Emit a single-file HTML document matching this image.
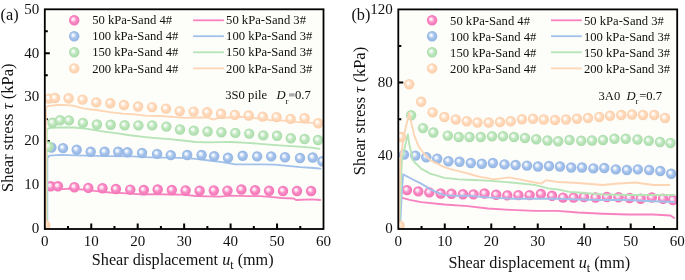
<!DOCTYPE html>
<html><head><meta charset="utf-8"><style>
html,body{margin:0;padding:0;background:#fff;width:685px;height:280px;overflow:hidden}
svg{display:block;will-change:transform}
text{font-family:"Liberation Serif", serif;fill:#111}
.tk{font-size:15px}
.lg{font-size:12.62px}
.it{font-style:italic}
.sb{font-size:8.8px;font-style:normal}
.at{font-size:16.2px}
.pl{font-size:16.3px}
</style></head><body>
<svg width="685" height="280" viewBox="0 0 685 280">
<defs>
<radialGradient id="gpk" cx="0.5" cy="0.5" r="0.5" fx="0.36" fy="0.35"><stop offset="0" stop-color="#fdeef6"/><stop offset="0.2" stop-color="#fdeef6"/><stop offset="0.55" stop-color="#f98bc6"/><stop offset="1" stop-color="#f373b5"/></radialGradient>
<radialGradient id="gbl" cx="0.5" cy="0.5" r="0.5" fx="0.36" fy="0.35"><stop offset="0" stop-color="#f2f6fd"/><stop offset="0.2" stop-color="#f2f6fd"/><stop offset="0.55" stop-color="#a5c3ec"/><stop offset="1" stop-color="#93b4e3"/></radialGradient>
<radialGradient id="ggr" cx="0.5" cy="0.5" r="0.5" fx="0.36" fy="0.35"><stop offset="0" stop-color="#f4fbf4"/><stop offset="0.2" stop-color="#f4fbf4"/><stop offset="0.55" stop-color="#bde7bd"/><stop offset="1" stop-color="#aadbaa"/></radialGradient>
<radialGradient id="gor" cx="0.5" cy="0.5" r="0.5" fx="0.36" fy="0.35"><stop offset="0" stop-color="#fffbf6"/><stop offset="0.2" stop-color="#fffbf6"/><stop offset="0.55" stop-color="#fedabd"/><stop offset="1" stop-color="#fccea9"/></radialGradient>
</defs>
<rect width="685" height="280" fill="#fff"/>
<rect x="44.8" y="9.3" width="278.7" height="219.7" fill="#fdfdf9"/>
<rect x="398.3" y="9.4" width="278.9" height="219.6" fill="#fdfdf9"/>
<path d="M68.02 229V226 M91.25 229V223.5 M114.47 229V226 M137.7 229V223.5 M160.92 229V226 M184.15 229V223.5 M207.38 229V226 M230.6 229V223.5 M253.82 229V226 M277.05 229V223.5 M300.27 229V226 M44.8 207.03H47.8 M44.8 185.06H49.8 M44.8 163.09H47.8 M44.8 141.12H49.8 M44.8 119.15H47.8 M44.8 97.18H49.8 M44.8 75.21H47.8 M44.8 53.24H49.8 M44.8 31.27H47.8" stroke="#000" stroke-width="2" fill="none"/>
<path d="M421.54 229V226 M444.78 229V223.5 M468.03 229V226 M491.27 229V223.5 M514.51 229V226 M537.75 229V223.5 M560.99 229V226 M584.23 229V223.5 M607.48 229V226 M630.72 229V223.5 M653.96 229V226 M398.3 192.4H401.3 M398.3 155.8H403.3 M398.3 119.2H401.3 M398.3 82.6H403.3 M398.3 46H401.3" stroke="#000" stroke-width="2" fill="none"/>
<clipPath id="ca"><rect x="44.8" y="9.3" width="278.7" height="219.7"/></clipPath>
<g clip-path="url(#ca)">
<polyline points="46.4,229 46.4,190 47.3,188.5 63.7,189.2 70.3,188.5 83.4,189.6 96.6,191.1 109.7,192.5 122.8,193.1 134,193.8 143.1,194.5 156.3,194.2 169.4,194.5 182.6,194.7 195.7,196 208.8,196.4 220,196.6 231.1,195.6 247.1,196.1 260,196.1 269.6,196.9 282.4,198 293.7,198.5 296.1,200 311.4,199.3 320.2,200" fill="none" stroke="#f882c0" stroke-width="1.85" stroke-linejoin="round" stroke-linecap="round"/>
<circle cx="50.6" cy="186.3" r="5.2" fill="url(#gpk)"/>
<circle cx="57.9" cy="186.3" r="5.2" fill="url(#gpk)"/>
<circle cx="74.4" cy="187.2" r="5.2" fill="url(#gpk)"/>
<circle cx="88.3" cy="187.9" r="5.2" fill="url(#gpk)"/>
<circle cx="102.5" cy="188.3" r="5.2" fill="url(#gpk)"/>
<circle cx="115.9" cy="189" r="5.2" fill="url(#gpk)"/>
<circle cx="130.3" cy="189.6" r="5.2" fill="url(#gpk)"/>
<circle cx="143.8" cy="190" r="5.2" fill="url(#gpk)"/>
<circle cx="157.7" cy="189.5" r="5.2" fill="url(#gpk)"/>
<circle cx="171.8" cy="190" r="5.2" fill="url(#gpk)"/>
<circle cx="185.6" cy="190.5" r="5.2" fill="url(#gpk)"/>
<circle cx="199.6" cy="190.7" r="5.2" fill="url(#gpk)"/>
<circle cx="213.8" cy="190.5" r="5.2" fill="url(#gpk)"/>
<circle cx="227.5" cy="190.6" r="5.2" fill="url(#gpk)"/>
<circle cx="241.4" cy="189.5" r="5.2" fill="url(#gpk)"/>
<circle cx="255.1" cy="190.3" r="5.2" fill="url(#gpk)"/>
<circle cx="269.1" cy="190.8" r="5.2" fill="url(#gpk)"/>
<circle cx="283" cy="191" r="5.2" fill="url(#gpk)"/>
<circle cx="297" cy="191" r="5.2" fill="url(#gpk)"/>
<circle cx="311.1" cy="191" r="5.2" fill="url(#gpk)"/>
<polyline points="47.3,229 47.3,158 49.5,155.6 60,154.8 84.1,155.6 108.2,156.1 132.3,156.4 150,157.3 163.1,157.7 181.5,157.9 196,158.8 209.1,160.5 222.3,162.1 235.4,164.3 248.1,164.4 261.3,164.4 274.4,164.7 287.6,165.8 300.7,167.1 313.8,168 320.4,168.7" fill="none" stroke="#a1c1eb" stroke-width="1.85" stroke-linejoin="round" stroke-linecap="round"/>
<circle cx="51.4" cy="147.5" r="5.2" fill="url(#gbl)"/>
<circle cx="63" cy="148.1" r="5.2" fill="url(#gbl)"/>
<circle cx="76.7" cy="149.7" r="5.2" fill="url(#gbl)"/>
<circle cx="90.7" cy="151.8" r="5.2" fill="url(#gbl)"/>
<circle cx="104.6" cy="151.8" r="5.2" fill="url(#gbl)"/>
<circle cx="118.2" cy="151.8" r="5.2" fill="url(#gbl)"/>
<circle cx="127.5" cy="152.2" r="5.2" fill="url(#gbl)"/>
<circle cx="142" cy="153" r="5.2" fill="url(#gbl)"/>
<circle cx="157.1" cy="153.9" r="5.2" fill="url(#gbl)"/>
<circle cx="170.8" cy="155.1" r="5.2" fill="url(#gbl)"/>
<circle cx="187.2" cy="155" r="5.2" fill="url(#gbl)"/>
<circle cx="201.6" cy="155" r="5.2" fill="url(#gbl)"/>
<circle cx="214.2" cy="156.2" r="5.2" fill="url(#gbl)"/>
<circle cx="228" cy="157.8" r="5.2" fill="url(#gbl)"/>
<circle cx="242.7" cy="155.8" r="5.2" fill="url(#gbl)"/>
<circle cx="257.2" cy="156.4" r="5.2" fill="url(#gbl)"/>
<circle cx="271.2" cy="156.4" r="5.2" fill="url(#gbl)"/>
<circle cx="285" cy="157.2" r="5.2" fill="url(#gbl)"/>
<circle cx="300" cy="158" r="5.2" fill="url(#gbl)"/>
<circle cx="312.7" cy="157.5" r="5.2" fill="url(#gbl)"/>
<circle cx="322.4" cy="161.3" r="5.2" fill="url(#gbl)"/>
<polyline points="46.8,229 46.8,129.5 49.3,128.1 57.1,127.5 74.2,127.5 87.4,128.8 100.5,131.2 117.6,133.4 130,135.25 143.1,136.8 156.3,138.1 169.4,139.2 182.6,140.5 195.7,142 208.8,142.4 220,142.1 231,142 247.1,142.8 263.2,144.1 279.2,145.3 295.3,146.4 311.4,147.7 319.4,148.9" fill="none" stroke="#b6e4b6" stroke-width="1.85" stroke-linejoin="round" stroke-linecap="round"/>
<circle cx="48.5" cy="146.5" r="5.2" fill="url(#ggr)"/>
<circle cx="52.5" cy="122.7" r="5.2" fill="url(#ggr)"/>
<circle cx="60" cy="120.2" r="5.2" fill="url(#ggr)"/>
<circle cx="68.9" cy="120.4" r="5.2" fill="url(#ggr)"/>
<circle cx="82.9" cy="122.9" r="5.2" fill="url(#ggr)"/>
<circle cx="96.9" cy="124.5" r="5.2" fill="url(#ggr)"/>
<circle cx="110.7" cy="124.7" r="5.2" fill="url(#ggr)"/>
<circle cx="124.6" cy="125.3" r="5.2" fill="url(#ggr)"/>
<circle cx="138.4" cy="125.4" r="5.2" fill="url(#ggr)"/>
<circle cx="152.2" cy="125.4" r="5.2" fill="url(#ggr)"/>
<circle cx="166.4" cy="126.6" r="5.2" fill="url(#ggr)"/>
<circle cx="180" cy="129.5" r="5.2" fill="url(#ggr)"/>
<circle cx="193.75" cy="130.6" r="5.2" fill="url(#ggr)"/>
<circle cx="207.6" cy="131.5" r="5.2" fill="url(#ggr)"/>
<circle cx="221.4" cy="132.2" r="5.2" fill="url(#ggr)"/>
<circle cx="235.3" cy="132.9" r="5.2" fill="url(#ggr)"/>
<circle cx="249.2" cy="133.6" r="5.2" fill="url(#ggr)"/>
<circle cx="263.3" cy="135.4" r="5.2" fill="url(#ggr)"/>
<circle cx="277.1" cy="135.8" r="5.2" fill="url(#ggr)"/>
<circle cx="290.8" cy="138.2" r="5.2" fill="url(#ggr)"/>
<circle cx="304.6" cy="139" r="5.2" fill="url(#ggr)"/>
<circle cx="318" cy="140" r="5.2" fill="url(#ggr)"/>
<polyline points="45.9,229 45.9,108 47.5,106.2 51.7,105.6 57,105 63.4,104.9 72.7,105.6 84.4,108.6 96,110 110,112.2 122.5,113.7 135,114.4 145,115.6 160,116 172.5,116.9 185,117.9 197.5,117.5 207.5,117.5 213.75,119.6 217.5,118.1 228.75,117.5 241.25,116.9 253.75,118.1 265,118.9 269.3,120 283.6,120.7 297.9,122.1 312.1,122.9 321,123.9" fill="none" stroke="#fdd5b4" stroke-width="1.85" stroke-linejoin="round" stroke-linecap="round"/>
<circle cx="45.2" cy="225.2" r="5.2" fill="url(#gor)"/>
<circle cx="48.8" cy="98.6" r="5.2" fill="url(#gor)"/>
<circle cx="55" cy="98" r="5.2" fill="url(#gor)"/>
<circle cx="68.6" cy="98.3" r="5.2" fill="url(#gor)"/>
<circle cx="82.5" cy="99.6" r="5.2" fill="url(#gor)"/>
<circle cx="96.3" cy="102.4" r="5.2" fill="url(#gor)"/>
<circle cx="110.3" cy="103.2" r="5.2" fill="url(#gor)"/>
<circle cx="124" cy="105" r="5.2" fill="url(#gor)"/>
<circle cx="138.1" cy="106.5" r="5.2" fill="url(#gor)"/>
<circle cx="152.1" cy="107.1" r="5.2" fill="url(#gor)"/>
<circle cx="166" cy="108.6" r="5.2" fill="url(#gor)"/>
<circle cx="179.7" cy="111.1" r="5.2" fill="url(#gor)"/>
<circle cx="193.6" cy="111.6" r="5.2" fill="url(#gor)"/>
<circle cx="207.2" cy="112.3" r="5.2" fill="url(#gor)"/>
<circle cx="221" cy="113.75" r="5.2" fill="url(#gor)"/>
<circle cx="234.9" cy="114.9" r="5.2" fill="url(#gor)"/>
<circle cx="248.75" cy="115.5" r="5.2" fill="url(#gor)"/>
<circle cx="262.7" cy="116.6" r="5.2" fill="url(#gor)"/>
<circle cx="276.6" cy="117.1" r="5.2" fill="url(#gor)"/>
<circle cx="290.6" cy="118.9" r="5.2" fill="url(#gor)"/>
<circle cx="304.6" cy="118.2" r="5.2" fill="url(#gor)"/>
<circle cx="318.2" cy="123.2" r="5.2" fill="url(#gor)"/>
</g>
<clipPath id="cb"><rect x="398.3" y="9.4" width="278.9" height="219.6"/></clipPath>
<g clip-path="url(#cb)">
<polyline points="399.6,229 400.5,200 401.5,197.6 409.6,199.9 421.2,202.2 444.4,204.5 467.6,206.1 488,208.5 511.2,209.9 534.4,210.8 557.6,210.8 578,212.5 603,213.75 628,214.5 653,214.5 670.5,215.5 674.25,218" fill="none" stroke="#f882c0" stroke-width="1.85" stroke-linejoin="round" stroke-linecap="round"/>
<circle cx="407" cy="190.1" r="5.2" fill="url(#gpk)"/>
<circle cx="418.3" cy="191.4" r="5.2" fill="url(#gpk)"/>
<circle cx="429.3" cy="192.4" r="5.2" fill="url(#gpk)"/>
<circle cx="440.7" cy="193.5" r="5.2" fill="url(#gpk)"/>
<circle cx="451.5" cy="193.7" r="5.2" fill="url(#gpk)"/>
<circle cx="463" cy="194.2" r="5.2" fill="url(#gpk)"/>
<circle cx="473.5" cy="194.4" r="5.2" fill="url(#gpk)"/>
<circle cx="484.5" cy="193.5" r="5.2" fill="url(#gpk)"/>
<circle cx="496.2" cy="194.7" r="5.2" fill="url(#gpk)"/>
<circle cx="507.3" cy="195.4" r="5.2" fill="url(#gpk)"/>
<circle cx="518.4" cy="195.1" r="5.2" fill="url(#gpk)"/>
<circle cx="529.6" cy="195.1" r="5.2" fill="url(#gpk)"/>
<circle cx="540.9" cy="194" r="5.2" fill="url(#gpk)"/>
<circle cx="552" cy="195.8" r="5.2" fill="url(#gpk)"/>
<circle cx="563" cy="197.6" r="5.2" fill="url(#gpk)"/>
<circle cx="573.6" cy="197.6" r="5.2" fill="url(#gpk)"/>
<circle cx="584" cy="197" r="5.2" fill="url(#gpk)"/>
<circle cx="595.6" cy="197.5" r="5.2" fill="url(#gpk)"/>
<circle cx="606.9" cy="197" r="5.2" fill="url(#gpk)"/>
<circle cx="618.5" cy="197.2" r="5.2" fill="url(#gpk)"/>
<circle cx="629.6" cy="198" r="5.2" fill="url(#gpk)"/>
<circle cx="640.7" cy="198.7" r="5.2" fill="url(#gpk)"/>
<circle cx="651.8" cy="197.5" r="5.2" fill="url(#gpk)"/>
<circle cx="663" cy="198.7" r="5.2" fill="url(#gpk)"/>
<circle cx="673" cy="200" r="5.2" fill="url(#gpk)"/>
<polyline points="400,229 401.5,198.7 403.1,174.4 411.9,179 421.2,183.6 432.8,190.6 444.4,195.2 456,195.9 467.6,195.7 488,197.4 511.2,198.7 534.4,198.7 557.6,198.7 578,199.5 603,200 628,200 653,201.25 674.25,202" fill="none" stroke="#a1c1eb" stroke-width="1.85" stroke-linejoin="round" stroke-linecap="round"/>
<circle cx="404" cy="154.6" r="5.2" fill="url(#gbl)"/>
<circle cx="415.4" cy="155.6" r="5.2" fill="url(#gbl)"/>
<circle cx="426.3" cy="157.2" r="5.2" fill="url(#gbl)"/>
<circle cx="437.2" cy="158.7" r="5.2" fill="url(#gbl)"/>
<circle cx="448.4" cy="161.2" r="5.2" fill="url(#gbl)"/>
<circle cx="459.5" cy="161.8" r="5.2" fill="url(#gbl)"/>
<circle cx="470.8" cy="163" r="5.2" fill="url(#gbl)"/>
<circle cx="481.8" cy="163.7" r="5.2" fill="url(#gbl)"/>
<circle cx="492.9" cy="163" r="5.2" fill="url(#gbl)"/>
<circle cx="504.5" cy="164.4" r="5.2" fill="url(#gbl)"/>
<circle cx="515.6" cy="165" r="5.2" fill="url(#gbl)"/>
<circle cx="527" cy="165.6" r="5.2" fill="url(#gbl)"/>
<circle cx="538" cy="166.5" r="5.2" fill="url(#gbl)"/>
<circle cx="549" cy="166" r="5.2" fill="url(#gbl)"/>
<circle cx="560" cy="166.5" r="5.2" fill="url(#gbl)"/>
<circle cx="571.2" cy="167.5" r="5.2" fill="url(#gbl)"/>
<circle cx="582" cy="167.5" r="5.2" fill="url(#gbl)"/>
<circle cx="593.4" cy="168.4" r="5.2" fill="url(#gbl)"/>
<circle cx="604.3" cy="168" r="5.2" fill="url(#gbl)"/>
<circle cx="615.8" cy="169.4" r="5.2" fill="url(#gbl)"/>
<circle cx="626.9" cy="170" r="5.2" fill="url(#gbl)"/>
<circle cx="637.8" cy="169.4" r="5.2" fill="url(#gbl)"/>
<circle cx="649.2" cy="170" r="5.2" fill="url(#gbl)"/>
<circle cx="660.3" cy="171" r="5.2" fill="url(#gbl)"/>
<circle cx="671.2" cy="173.7" r="5.2" fill="url(#gbl)"/>
<polyline points="399.2,229 401.9,160 407.8,134.4 409.3,144.2 410.7,150.1 412.7,160 414.3,162 421.2,168.6 430,173.6 437.1,175.7 444.3,177.9 458.6,179.3 472.9,180 487.1,180.7 500,181.7 511.2,182.5 534.4,184.8 548.3,188.3 557.6,189.4 569.2,191.8 578,192.5 603,194.5 628,195 653,195 674.25,195" fill="none" stroke="#b6e4b6" stroke-width="1.85" stroke-linejoin="round" stroke-linecap="round"/>
<circle cx="411.1" cy="115.2" r="5.2" fill="url(#ggr)"/>
<circle cx="423" cy="128.1" r="5.2" fill="url(#ggr)"/>
<circle cx="433.4" cy="132.5" r="5.2" fill="url(#ggr)"/>
<circle cx="447.8" cy="135.6" r="5.2" fill="url(#ggr)"/>
<circle cx="458.75" cy="137" r="5.2" fill="url(#ggr)"/>
<circle cx="469.5" cy="137" r="5.2" fill="url(#ggr)"/>
<circle cx="480.75" cy="137" r="5.2" fill="url(#ggr)"/>
<circle cx="492" cy="136.25" r="5.2" fill="url(#ggr)"/>
<circle cx="503" cy="136.25" r="5.2" fill="url(#ggr)"/>
<circle cx="514" cy="137" r="5.2" fill="url(#ggr)"/>
<circle cx="525" cy="138" r="5.2" fill="url(#ggr)"/>
<circle cx="536.25" cy="139.25" r="5.2" fill="url(#ggr)"/>
<circle cx="547.5" cy="140.5" r="5.2" fill="url(#ggr)"/>
<circle cx="558.25" cy="141.25" r="5.2" fill="url(#ggr)"/>
<circle cx="569.5" cy="140" r="5.2" fill="url(#ggr)"/>
<circle cx="581.25" cy="140.75" r="5.2" fill="url(#ggr)"/>
<circle cx="592" cy="140.5" r="5.2" fill="url(#ggr)"/>
<circle cx="603" cy="140" r="5.2" fill="url(#ggr)"/>
<circle cx="614.5" cy="138.75" r="5.2" fill="url(#ggr)"/>
<circle cx="625.75" cy="138.75" r="5.2" fill="url(#ggr)"/>
<circle cx="637.5" cy="139.5" r="5.2" fill="url(#ggr)"/>
<circle cx="648.75" cy="140.75" r="5.2" fill="url(#ggr)"/>
<circle cx="660" cy="142" r="5.2" fill="url(#ggr)"/>
<circle cx="670.5" cy="143" r="5.2" fill="url(#ggr)"/>
<polyline points="398.8,229 400.3,160 404,135 409.2,112.8 411.7,124.6 414.6,136.4 418.5,146.2 423.5,153 430,160 437.1,163.6 444.3,167.1 451.4,169.3 458.6,171.1 465.7,172.9 472.9,175 480,176.9 487.1,177.9 492.9,179.3 500,178.6 508.9,177.4 520.5,179.7 532.1,182 541.4,183.6 546,180.2 557.6,182 569.2,182.5 578,183 603,185 615.5,183.75 635.5,182.5 653,185 669.25,185" fill="none" stroke="#fdd5b4" stroke-width="1.85" stroke-linejoin="round" stroke-linecap="round"/>
<circle cx="399.5" cy="225.5" r="5.2" fill="url(#gor)"/>
<circle cx="400.9" cy="137" r="5.2" fill="url(#gor)"/>
<circle cx="409.2" cy="84.2" r="5.2" fill="url(#gor)"/>
<circle cx="421.2" cy="101.8" r="5.2" fill="url(#gor)"/>
<circle cx="432.6" cy="112.4" r="5.2" fill="url(#gor)"/>
<circle cx="444.4" cy="117" r="5.2" fill="url(#gor)"/>
<circle cx="455.8" cy="119.5" r="5.2" fill="url(#gor)"/>
<circle cx="466.8" cy="121.2" r="5.2" fill="url(#gor)"/>
<circle cx="477.5" cy="122.5" r="5.2" fill="url(#gor)"/>
<circle cx="488.75" cy="122.5" r="5.2" fill="url(#gor)"/>
<circle cx="500" cy="122" r="5.2" fill="url(#gor)"/>
<circle cx="510.75" cy="121.25" r="5.2" fill="url(#gor)"/>
<circle cx="522" cy="119.3" r="5.2" fill="url(#gor)"/>
<circle cx="533" cy="118.75" r="5.2" fill="url(#gor)"/>
<circle cx="543.75" cy="119.5" r="5.2" fill="url(#gor)"/>
<circle cx="555" cy="120" r="5.2" fill="url(#gor)"/>
<circle cx="566" cy="119.5" r="5.2" fill="url(#gor)"/>
<circle cx="577" cy="118.75" r="5.2" fill="url(#gor)"/>
<circle cx="588" cy="118" r="5.2" fill="url(#gor)"/>
<circle cx="599.25" cy="117" r="5.2" fill="url(#gor)"/>
<circle cx="610" cy="115.75" r="5.2" fill="url(#gor)"/>
<circle cx="621.25" cy="115" r="5.2" fill="url(#gor)"/>
<circle cx="632" cy="114.5" r="5.2" fill="url(#gor)"/>
<circle cx="643" cy="115" r="5.2" fill="url(#gor)"/>
<circle cx="654.25" cy="115" r="5.2" fill="url(#gor)"/>
<circle cx="665" cy="118" r="5.2" fill="url(#gor)"/>
</g>
<circle cx="74.2" cy="20.3" r="5.2" fill="url(#gpk)"/>
<text x="92.2" y="24.4" class="lg">50 kPa-Sand 4#</text>
<line x1="193.1" y1="20.3" x2="223.9" y2="20.3" stroke="#f882c0" stroke-width="1.8"/>
<text x="226.1" y="24.4" class="lg">50 kPa-Sand 3#</text>
<circle cx="74.2" cy="36.2" r="5.2" fill="url(#gbl)"/>
<text x="92.2" y="40.3" class="lg">100 kPa-Sand 4#</text>
<line x1="193.1" y1="36.2" x2="223.9" y2="36.2" stroke="#a1c1eb" stroke-width="1.8"/>
<text x="226.1" y="40.3" class="lg">100 kPa-Sand 3#</text>
<circle cx="74.2" cy="52.3" r="5.2" fill="url(#ggr)"/>
<text x="92.2" y="56.4" class="lg">150 kPa-Sand 4#</text>
<line x1="193.1" y1="52.3" x2="223.9" y2="52.3" stroke="#b6e4b6" stroke-width="1.8"/>
<text x="226.1" y="56.4" class="lg">150 kPa-Sand 3#</text>
<circle cx="74.2" cy="68.4" r="5.2" fill="url(#gor)"/>
<text x="92.2" y="72.5" class="lg">200 kPa-Sand 4#</text>
<line x1="193.1" y1="68.4" x2="223.9" y2="68.4" stroke="#fdd5b4" stroke-width="1.8"/>
<text x="226.1" y="72.5" class="lg">200 kPa-Sand 3#</text>
<circle cx="432.1" cy="20.3" r="5.2" fill="url(#gpk)"/>
<text x="450.1" y="24.8" class="lg">50 kPa-Sand 4#</text>
<line x1="551" y1="20.3" x2="581.8" y2="20.3" stroke="#f882c0" stroke-width="1.8"/>
<text x="584" y="24.8" class="lg">50 kPa-Sand 3#</text>
<circle cx="432.1" cy="36.2" r="5.2" fill="url(#gbl)"/>
<text x="450.1" y="40.7" class="lg">100 kPa-Sand 4#</text>
<line x1="551" y1="36.2" x2="581.8" y2="36.2" stroke="#a1c1eb" stroke-width="1.8"/>
<text x="584" y="40.7" class="lg">100 kPa-Sand 3#</text>
<circle cx="432.1" cy="52.3" r="5.2" fill="url(#ggr)"/>
<text x="450.1" y="56.8" class="lg">150 kPa-Sand 4#</text>
<line x1="551" y1="52.3" x2="581.8" y2="52.3" stroke="#b6e4b6" stroke-width="1.8"/>
<text x="584" y="56.8" class="lg">150 kPa-Sand 3#</text>
<circle cx="432.1" cy="68.4" r="5.2" fill="url(#gor)"/>
<text x="450.1" y="72.9" class="lg">200 kPa-Sand 4#</text>
<line x1="551" y1="68.4" x2="581.8" y2="68.4" stroke="#fdd5b4" stroke-width="1.8"/>
<text x="584" y="72.9" class="lg">200 kPa-Sand 3#</text>
<rect x="44.8" y="9.3" width="278.7" height="219.7" fill="none" stroke="#000" stroke-width="1.8"/>
<text x="44.8" y="246.2" text-anchor="middle" class="tk">0</text>
<text x="91.25" y="246.2" text-anchor="middle" class="tk">10</text>
<text x="137.7" y="246.2" text-anchor="middle" class="tk">20</text>
<text x="184.15" y="246.2" text-anchor="middle" class="tk">30</text>
<text x="230.6" y="246.2" text-anchor="middle" class="tk">40</text>
<text x="277.05" y="246.2" text-anchor="middle" class="tk">50</text>
<text x="323.5" y="246.2" text-anchor="middle" class="tk">60</text>
<text x="39.2" y="233.3" text-anchor="end" class="tk">0</text>
<text x="39.2" y="189.36" text-anchor="end" class="tk">10</text>
<text x="39.2" y="145.42" text-anchor="end" class="tk">20</text>
<text x="39.2" y="101.48" text-anchor="end" class="tk">30</text>
<text x="39.2" y="57.54" text-anchor="end" class="tk">40</text>
<text x="39.2" y="13.6" text-anchor="end" class="tk">50</text>
<rect x="398.3" y="9.4" width="278.9" height="219.6" fill="none" stroke="#000" stroke-width="1.8"/>
<text x="398.3" y="246.2" text-anchor="middle" class="tk">0</text>
<text x="444.78" y="246.2" text-anchor="middle" class="tk">10</text>
<text x="491.27" y="246.2" text-anchor="middle" class="tk">20</text>
<text x="537.75" y="246.2" text-anchor="middle" class="tk">30</text>
<text x="584.23" y="246.2" text-anchor="middle" class="tk">40</text>
<text x="630.72" y="246.2" text-anchor="middle" class="tk">50</text>
<text x="677.2" y="246.2" text-anchor="middle" class="tk">60</text>
<text x="392.7" y="233.3" text-anchor="end" class="tk">0</text>
<text x="392.7" y="160.1" text-anchor="end" class="tk">40</text>
<text x="392.7" y="86.9" text-anchor="end" class="tk">80</text>
<text x="392.7" y="13.7" text-anchor="end" class="tk">120</text>
<text x="0.5" y="19.9" class="pl">(a)</text>
<text x="351.4" y="19.9" class="pl">(b)</text>
<text x="225.3" y="99.3" class="lg">3S0 pile</text>
<text x="276.5" y="99.3" class="lg it">D</text><text x="285.6" y="103.5" class="sb">r</text>
<rect x="289" y="93.3" width="5.6" height="3.2" fill="#aaa"/>
<text x="295" y="99.3" class="lg">0.7</text>
<text x="598.5" y="99.6" class="lg">3A0</text>
<text x="626.5" y="99.6" class="lg it">D</text><text x="635.6" y="103.7" class="sb">r</text>
<text x="639.2" y="99.6" class="lg">=0.7</text>
<text x="91.8" y="264.6" class="at">Shear displacement <tspan font-style="italic">u</tspan><tspan font-size="12" dy="4">t</tspan><tspan dy="-4"> (mm)</tspan></text>
<text x="448.4" y="267.7" class="at">Shear displacement <tspan font-style="italic">u</tspan><tspan font-size="12" dy="4">t</tspan><tspan dy="-4"> (mm)</tspan></text>
<text transform="translate(12.6 192) rotate(-90)" class="at" style="font-size:16.55px">Shear stress <tspan font-style="italic">&#964;</tspan> (kPa)</text>
<text transform="translate(364.9 175.3) rotate(-90)" class="at" style="font-size:16.55px">Shear stress <tspan font-style="italic">&#964;</tspan> (kPa)</text>
</svg>
</body></html>
